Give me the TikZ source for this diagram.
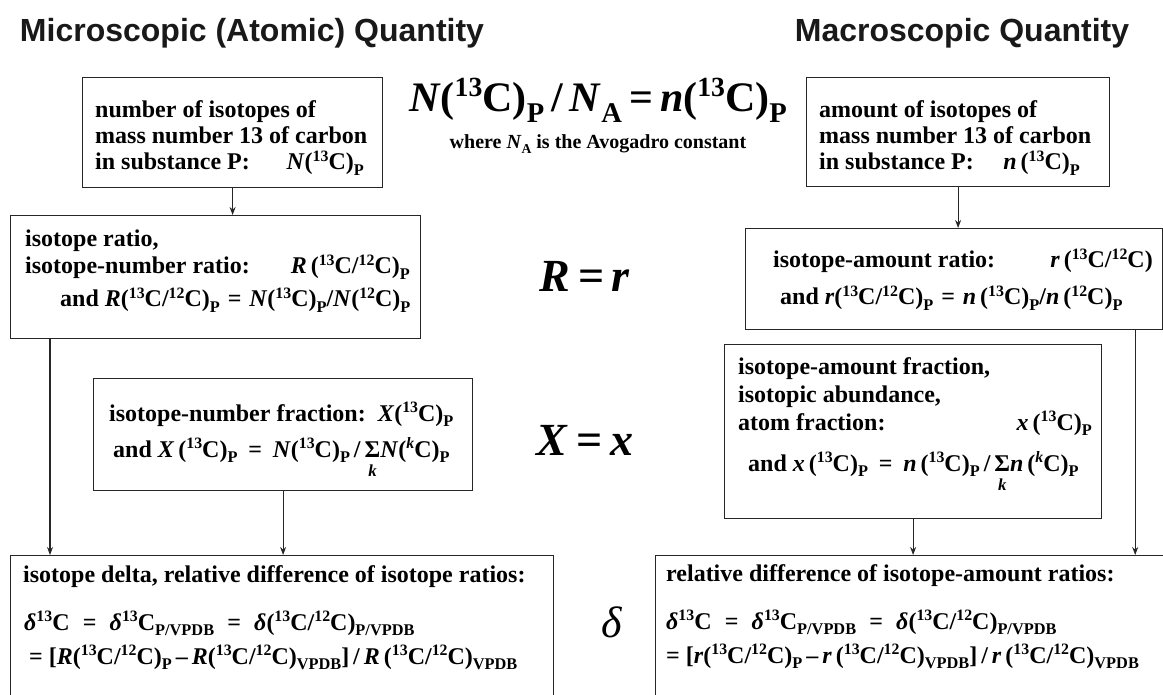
\documentclass[tikz,border=0pt]{standalone}
\usepackage{fontspec}
\setmainfont{Liberation Serif}
\newfontfamily\hdfont{Liberation Sans}
\usetikzlibrary{arrows.meta}
\newcommand\spp[1]{\raisebox{0.36em}{\scalebox{0.66}{#1}}}
\newcommand\sbb[1]{\raisebox{-0.24em}{\scalebox{0.68}{#1}}}
\newcommand\iC[1]{(\spp{#1}C)}
\newcommand\rC{(\spp{13}C/\spp{12}C)}
\newcommand\sumk{\ooalign{Σ\cr\hidewidth\raisebox{-0.8em}{\scalebox{0.7}{\textit{k}}}\hidewidth\cr}}
\newcommand\eqs{\hspace{0.33em}=\hspace{0.33em}}
\newcommand\eqm{\hspace{0.45em}=\hspace{0.45em}}
\newcommand\eqw{\hspace{0.55em}=\hspace{0.55em}}
\begin{document}
\begin{tikzpicture}[x=1pt,y=-1pt,
  box/.style={draw=black!85, line width=1.2pt, inner sep=0pt, anchor=north west},
  txt/.style={anchor=base west, inner sep=0pt, font=\fontsize{24}{26}\selectfont\bfseries},
  txr/.style={txt, anchor=base east},
  hd/.style={anchor=base, inner sep=0pt, text=black!90, font=\hdfont\bfseries\fontsize{32}{34}\selectfont},
  big/.style={anchor=base, inner sep=0pt},
  conn/.style={line width=1.1pt, draw=black!85, -{Stealth[length=8pt,width=6pt]}},
]
\clip (0,0) rectangle (1163,695);
% headers
\node[hd] (h1) at (252,42) {Microscopic (Atomic) Quantity};
\node[hd] (h2) at (962,42) {Macroscopic Quantity};
% boxes
\node[box, minimum width=300pt, minimum height=110pt] (b1) at (82,77) {};
\node[box, minimum width=303pt, minimum height=109pt] (b4) at (806,77) {};
\node[box, minimum width=410pt, minimum height=123pt] (b2) at (10,215) {};
\node[box, minimum width=417pt, minimum height=101pt] (b5) at (745,228) {};
\node[box, minimum width=379pt, minimum height=112pt] (b3) at (93,378) {};
\node[box, minimum width=377pt, minimum height=174pt] (b6) at (724,344) {};
\node[box, minimum width=543pt, minimum height=170pt] (bl) at (10,555) {};
\node[box, minimum width=540pt, minimum height=170pt] (br) at (655,555) {};
% connectors
\coordinate (s2) at ([xshift=40pt]b2.south west);
\coordinate (s5) at ([xshift=-28pt]b5.south east);
\draw[conn] (b1.south) -- (b1.south |- b2.north);
\draw[conn] (b4.south) -- (b4.south |- b5.north);
\draw[conn] (s2) -- (s2 |- bl.north);
\draw[conn] (b3.south) -- (b3.south |- bl.north);
\draw[conn] (b6.south) -- (b6.south |- br.north);
\draw[conn] (s5) -- (s5 |- br.north);
% box 1
\node[txt] (t1a) at (95,118) {number of isotopes of};
\node[txt] (t1b) at (95,144) {mass number 13 of carbon};
\node[txt] (t1c) at (95,170) {in substance P:};
\node[txr] (t1d) at (364,170) {\textit{N}\iC{13}\sbb{P}};
% box 4
\node[txt] (t4a) at (819,118) {amount of isotopes of};
\node[txt] (t4b) at (819,144) {mass number 13 of carbon};
\node[txt] (t4c) at (819,170) {in substance P:};
\node[txr] (t4d) at (1080,170) {\textit{n}\,\iC{13}\sbb{P}};
% box 2
\node[txt] (t2a) at (25,247) {isotope ratio,};
\node[txt] (t2b) at (25,274) {isotope-number ratio:};
\node[txr] (t2c) at (410,274) {\textit{R}\,\rC\sbb{P}};
\node[txt] (t2d) at (60,307) {and \textit{R}\rC\sbb{P}\eqs\textit{N}\iC{13}\sbb{P}/\textit{N}\iC{12}\sbb{P}};
% box 5
\node[txt] (t5a) at (773,268) {isotope-amount ratio:};
\node[txr] (t5b) at (1153,268) {\textit{r}\,\rC};
\node[txt] (t5c) at (780,305) {and \textit{r}\rC\sbb{P}\eqs\textit{n}\,\iC{13}\sbb{P}/\textit{n}\,\iC{12}\sbb{P}};
% box 3
\node[txt] (t3a) at (109,421) {isotope-number fraction:\enspace\textit{X}\iC{13}\sbb{P}};
\node[txt] (t3b) at (113,457) {and \textit{X}\,\iC{13}\sbb{P}\eqm\textit{N}\iC{13}\sbb{P}\,/\,\sumk\textit{N}\iC{\textit{k}}\sbb{P}};
% box 6
\node[txt] (t6a) at (738,374) {isotope-amount fraction,};
\node[txt] (t6b) at (738,402) {isotopic abundance,};
\node[txt] (t6c) at (738,430) {atom fraction:};
\node[txr] (t6d) at (1092,430) {\textit{x}\,\iC{13}\sbb{P}};
\node[txt] (t6e) at (748,471) {and \textit{x}\,\iC{13}\sbb{P}\eqm\textit{n}\,\iC{13}\sbb{P}\,/\,\sumk\textit{n}\,\iC{\textit{k}}\sbb{P}};
% bottom left
\node[txt] (tla) at (23,582) {isotope delta, relative difference of isotope ratios:};
\node[txt] (tlb) at (24,630) {\textit{δ}\spp{13}C\eqw\textit{δ}\spp{13}C\sbb{P/VPDB}\eqw\textit{δ}\rC\sbb{P/VPDB}};
\node[txt] (tlc) at (29,664) {= [\textit{R}\rC\sbb{P}\,–\,\textit{R}\rC\sbb{VPDB}]\,/\,\textit{R}\,\rC\sbb{VPDB}};
% bottom right
\node[txt] (tra) at (666,581) {relative difference of isotope-amount ratios:};
\node[txt] (trb) at (666,629) {\textit{δ}\spp{13}C\eqw\textit{δ}\spp{13}C\sbb{P/VPDB}\eqw\textit{δ}\rC\sbb{P/VPDB}};
\node[txt] (trc) at (666,663) {= [\textit{r}\rC\sbb{P}\,–\,\textit{r}\,\rC\sbb{VPDB}]\,/\,\textit{r}\,\rC\sbb{VPDB}};
% centre relations
\node[big, font=\fontsize{42}{44}\selectfont\bfseries] (eq1) at (598,112) {\textit{N}\iC{13}\sbb{P}\,/\,\textit{N}\sbb{A}\,=\,\textit{n}\iC{13}\sbb{P}};
\node[big, font=\fontsize{20}{22}\selectfont\bfseries] (eq1n) at (598,149) {where \textit{N}\sbb{A} is the Avogadro constant};
\node[big, font=\fontsize{46}{48}\selectfont\bfseries] (eqR) at (585,292) {\textit{R}\,=\,\textit{r}};
\node[big, font=\fontsize{46}{48}\selectfont\bfseries] (eqX) at (585,455) {\textit{X}\,=\,\textit{x}};
\node[big, font=\fontsize{44}{46}\selectfont] (eqd) at (612,637) {\textit{δ}};
\end{tikzpicture}
\end{document}
